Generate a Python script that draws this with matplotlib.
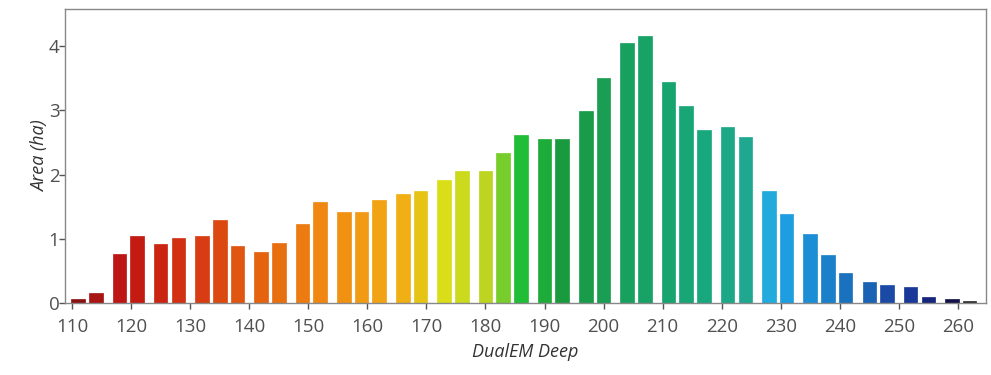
import matplotlib
matplotlib.use("Agg")
import matplotlib.pyplot as plt
from matplotlib.colors import LinearSegmentedColormap

depth = [111, 114, 118, 121, 125, 128, 132, 135, 138, 142, 145, 149, 152, 156, 159,
         162, 166, 169, 173, 176, 180, 183, 186, 190, 193, 197, 200, 204, 207, 211,
         214, 217, 221, 224, 228, 231, 235, 238, 241, 245, 248, 252, 255, 259, 262]
area = [0.06, 0.15, 0.76, 1.04, 0.92, 1.02, 1.04, 1.29, 0.89, 0.80, 0.93, 1.23, 1.58, 1.42, 1.42,
        1.60, 1.70, 1.75, 1.92, 2.06, 2.06, 2.34, 2.62, 2.55, 2.55, 2.99, 3.51, 4.05, 4.16, 3.45,
        3.07, 2.69, 2.74, 2.59, 1.75, 1.39, 1.07, 0.74, 0.46, 0.33, 0.28, 0.25, 0.09, 0.06, 0.03]
xticks = [110, 120, 130, 140, 150, 160, 170, 180, 190, 200, 210, 220, 230, 240, 250, 260]
yticks = [0, 1, 2, 3, 4]

anchors = [(0.00, "#8a1212"), (0.03, "#b81616"), (0.07, "#c41a12"), (0.13, "#d63a12"),
           (0.20, "#e4600f"), (0.28, "#f08c12"), (0.36, "#f2aa14"), (0.41, "#d8e018"),
           (0.47, "#b4d024"), (0.49, "#22c834"), (0.54, "#1a9a3c"), (0.62, "#18a060"),
           (0.70, "#18a87c"), (0.76, "#20a892"), (0.775, "#22aaec"), (0.83, "#1a88d0"),
           (0.88, "#1a68b8"), (0.92, "#1a40a0"), (0.95, "#1a2f8c"), (0.975, "#0c0c50"),
           (1.00, "#2a2a2a")]
cmap = LinearSegmentedColormap.from_list("depth", anchors)
n = len(depth)
colors = [cmap(i / (n - 1)) for i in range(n)]

plt.rcParams['font.family'] = ['Open Sans', 'DejaVu Sans']
fig = plt.figure(figsize=(9.91, 3.75), dpi=100)
ax = fig.add_axes([0.0656, 0.192, 0.929, 0.784])
ax.bar(depth, area, width=2.3, color=colors, edgecolor=colors, linewidth=0.5)
ax.set_xlim(108.8, 264.7)
ax.set_ylim(0, 4.58)
ax.set_xticks(xticks)
ax.set_yticks(yticks)
ax.tick_params(axis='both', colors='#555555', labelsize=13.5, length=4, width=1)
ax.tick_params(axis='x', labelcolor='#505050', pad=7)
ax.tick_params(axis='y', labelcolor='#505050', pad=0)
for s in ax.spines.values():
    s.set_color('#888888')
    s.set_linewidth(1)
ax.set_xlabel('DualEM Deep', style='italic', fontsize=13, color='#333333', labelpad=5)
ax.set_ylabel('Area (ha)', style='italic', fontsize=13, color='#333333', labelpad=0)
fig.savefig('out.png', dpi=100)
